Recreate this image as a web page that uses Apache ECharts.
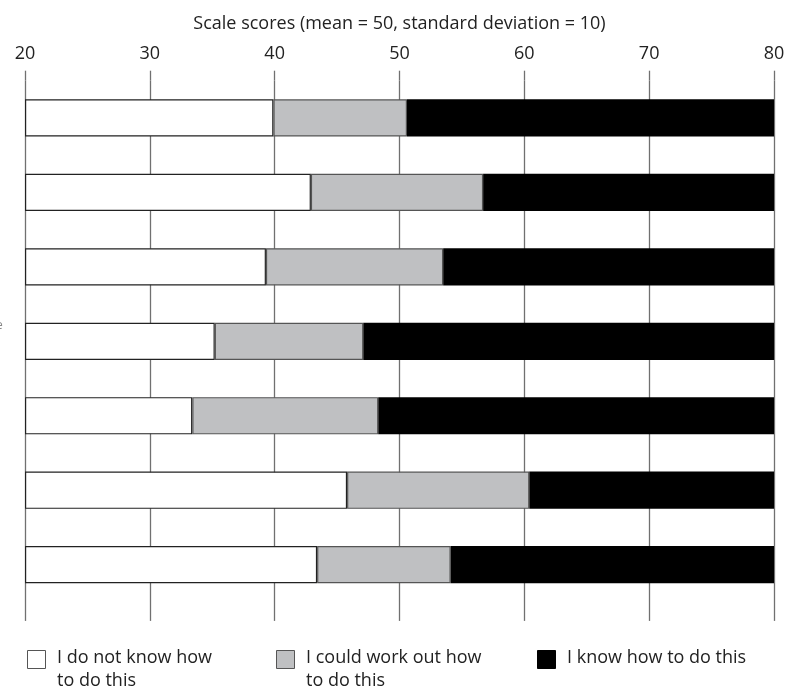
<!DOCTYPE html>
<html>
<head>
<meta charset="utf-8">
<script src="https://cdn.jsdelivr.net/npm/echarts@6/dist/echarts.min.js"></script>
<style>
html,body{margin:0;padding:0;background:#fff;}
#chart{width:790px;height:695px;}
</style>
</head>
<body>
<div id="chart"></div>
<script>
// ---- data ----
var categories = ['1', '2', '3', '4', '5', '6', '7'];
// right edge of the "I do not know how to do this" segment (scale score)
var notKnowEnd = [39.9, 42.9, 39.3, 35.2, 33.4, 45.8, 43.4];
// right edge of the "I could work out how to do this" segment (scale score)
var couldEnd = [50.6, 56.7, 53.5, 47.1, 48.3, 60.4, 54.1];
var axisMin = 20, axisMax = 80, axisStep = 10;
var seriesNames = ['I do not know how\nto do this', 'I could work out how\nto do this', 'I know how to do this'];
var axisTitle = 'Scale scores (mean = 50, standard deviation = 10)';

var baseVals = categories.map(function(){ return axisMin; });
var seg1 = notKnowEnd.map(function(v){ return +(v - axisMin).toFixed(2); });
var seg2 = couldEnd.map(function(v, i){ return +(v - notKnowEnd[i]).toFixed(2); });
var seg3 = couldEnd.map(function(v){ return +(axisMax - v).toFixed(2); });

var FONT = '"Open Sans", "Noto Sans", sans-serif';
var lineColor = '#707070';

var chart = echarts.init(document.getElementById('chart'), null, {renderer: 'canvas'});
var colors = ['#ffffff', '#bfc0c2', '#000000'];
var borders = ['#222222', '#555555', '#000000'];

var legendX = [27, 276, 537];
var graphics = [];
seriesNames.forEach(function(n, i){
  graphics.push({
    type: 'rect', left: legendX[i], top: 650,
    shape: {width: 18, height: 18},
    style: {fill: colors[i], stroke: i === 2 ? '#000' : '#555', lineWidth: 1}
  });
  graphics.push({
    type: 'text', left: legendX[i] + 30, top: 646,
    style: {text: n, font: '18px ' + FONT, fill: '#222', lineHeight: 23}
  });
});
// clipped fragment of a label at the left edge
graphics.push({
  type: 'text', left: -4, top: 320,
  style: {text: 'e', font: '12px ' + FONT, fill: '#888'}
});

var option = {
  animation: false,
  backgroundColor: '#ffffff',
  grid: {left: 25, right: 16, top: 80.7, bottom: 93.1, containLabel: false},
  xAxis: [
    {
      type: 'value', position: 'top', min: axisMin, max: axisMax, interval: axisStep,
      name: axisTitle, nameLocation: 'middle', nameGap: 48,
      nameTextStyle: {fontFamily: FONT, fontSize: 18, color: '#222'},
      axisLine: {show: false},
      axisTick: {show: true, inside: false, length: 10, lineStyle: {color: lineColor, width: 1.3}},
      axisLabel: {fontFamily: FONT, fontSize: 18, color: '#222', margin: 18},
      splitLine: {show: true, lineStyle: {color: lineColor, width: 1.3}}
    },
    {
      type: 'value', position: 'bottom', min: axisMin, max: axisMax, interval: axisStep,
      axisLine: {show: false},
      axisTick: {show: true, inside: false, length: 19, lineStyle: {color: lineColor, width: 1.3}},
      axisLabel: {show: false},
      splitLine: {show: false}
    }
  ],
  yAxis: {
    type: 'category', data: categories, inverse: true,
    axisLine: {show: false}, axisTick: {show: false}, axisLabel: {show: false},
    splitLine: {show: false}
  },
  series: [
    {
      name: 'base', type: 'bar', stack: 'a', data: baseVals, barWidth: '50%',
      itemStyle: {color: 'rgba(0,0,0,0)'}, silent: true
    },
    {
      name: seriesNames[0], type: 'bar', stack: 'a', data: seg1, barWidth: '50%',
      itemStyle: {color: colors[0], borderColor: borders[0], borderWidth: 1.2}
    },
    {
      name: seriesNames[1], type: 'bar', stack: 'a', data: seg2, barWidth: '50%',
      itemStyle: {color: colors[1], borderColor: borders[1], borderWidth: 1.2}
    },
    {
      name: seriesNames[2], type: 'bar', stack: 'a', data: seg3, barWidth: '50%',
      itemStyle: {color: colors[2], borderColor: borders[2], borderWidth: 0}
    }
  ],
  graphic: graphics
};
chart.setOption(option);
</script>
</body>
</html>
